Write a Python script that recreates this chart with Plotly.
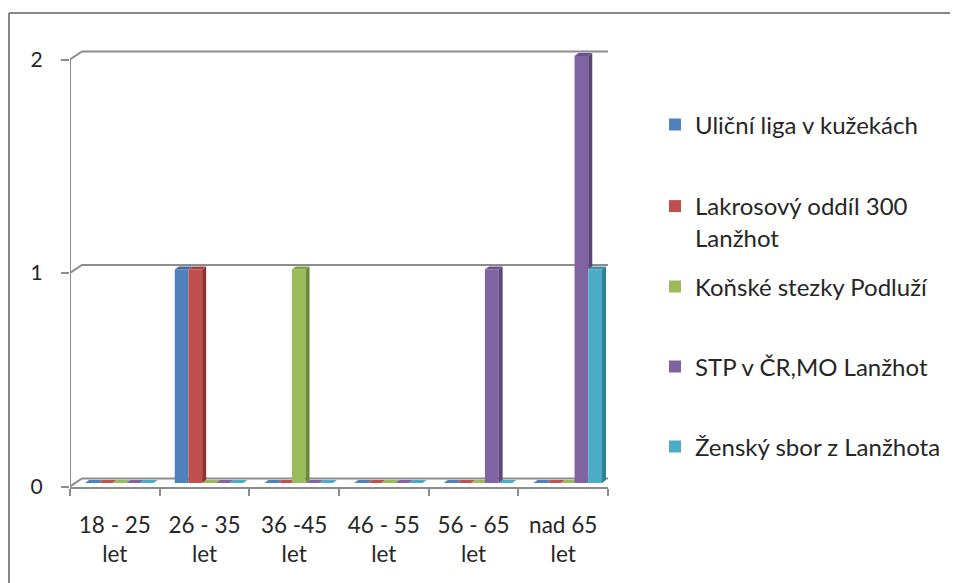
import plotly.graph_objects as go

# ---------------- data ----------------
categories = ["18 - 25<br>let", "26 - 35<br>let", "36 -45<br>let",
              "46 - 55<br>let", "56 - 65<br>let", "nad 65<br>let"]
series_names = ["Uliční liga v kužekách", "Lakrosový oddíl 300<br>Lanžhot",
                "Koňské stezky Podluží", "STP v ČR,MO Lanžhot", "Ženský sbor z Lanžhota"]
ulicni_liga = [0, 1, 0, 0, 0, 0]
lakrosovy_oddil = [0, 1, 0, 0, 0, 0]
konske_stezky = [0, 0, 1, 0, 0, 0]
stp_cr = [0, 0, 0, 0, 1, 2]
zensky_sbor = [0, 0, 0, 0, 0, 1]
y_ticks = [0, 1, 2]

series_values = [ulicni_liga, lakrosovy_oddil, konske_stezky, stp_cr, zensky_sbor]

# ---------------- style ----------------
colors = ["#4F81BD", "#C0504D", "#9BBB59", "#8064A2", "#4BACC6"]
side_colors = ["#36598a", "#8a3532", "#6d8a3a", "#5a4579", "#2f7f95"]
top_colors = ["#40689c", "#a04340", "#82a048", "#6a5288", "#3b93ab"]
GRAY = "#8c8c8c"
FONT = "Lato"
TXT = "#262626"

OFF = 8                      # page body margin of the browser
W, H = 958 - OFF, 583 - OFF
# plot area in page pixels
L_PG, R_PG, T_PG, B_PG = 70, 608, 50, 487
L_PX, R_PX, T_PX, B_PX = L_PG - OFF, R_PG - OFF, T_PG - OFF, B_PG - OFF
BAR_W = 0.153
BAR_OFF0 = -0.332
DX, DY = 0.0446, 0.014          # bar depth (data units)
WDX, WDY = 0.1338, 0.0375       # back wall offset (data units)
# legend item vertical centres (page pixels)
legend_centers = [125, 222, 287, 367, 447]
LEGEND_X = 655


def px(xp):
    return (xp - OFF - L_PX) / (R_PX - L_PX)


def py(yp):
    return (B_PX - (yp - OFF)) / (B_PX - T_PX)


x_pos = list(range(len(categories)))

fig = go.Figure()
for i, (name, vals) in enumerate(zip(series_names, series_values)):
    fig.add_trace(go.Bar(
        x=x_pos, y=vals, name=name, width=BAR_W, offset=BAR_OFF0 + i * BAR_W,
        marker=dict(color=colors[i], line=dict(width=0)),
        legend="legend" if i == 0 else "legend%d" % (i + 1), hoverinfo="skip"))

# invisible trace for the front value axis
fig.add_trace(go.Scatter(x=[0], y=[0], yaxis="y2", mode="markers",
                         marker=dict(opacity=0), showlegend=False, hoverinfo="skip"))

shapes = []
# frame
shapes.append(dict(type="line", xref="paper", yref="paper", x0=px(9), x1=px(958), y0=py(13), y1=py(13),
                   line=dict(color="#878787", width=2)))
shapes.append(dict(type="line", xref="paper", yref="paper", x0=px(9), x1=px(9), y0=py(13), y1=py(583),
                   line=dict(color="#878787", width=2)))

x_lo, x_hi = -0.5, len(categories) - 0.5
# back wall gridlines + floor
for v in y_ticks:
    if v == 0:
        path = "M%f,%f L%f,%f L%f,%f L%f,%f" % (x_lo, 0, x_lo + WDX, WDY, x_hi + WDX, WDY, x_hi, 0)
    else:
        path = "M%f,%f L%f,%f L%f,%f" % (x_lo, v, x_lo + WDX, v + WDY, x_hi + WDX + 0.02, v + WDY)
    shapes.append(dict(type="path", xref="x", yref="y2", path=path, layer="below",
                       line=dict(color=GRAY, width=2)))
# front value axis line
shapes.append(dict(type="line", xref="x", yref="y2", x0=x_lo, x1=x_lo, y0=0, y1=max(y_ticks),
                   line=dict(color=GRAY, width=2), layer="below"))

# bar faces
for i, vals in enumerate(series_values):
    for j, v in enumerate(vals):
        left = j + BAR_OFF0 + i * BAR_W
        right = left + BAR_W
        top = "M%f,%f L%f,%f L%f,%f L%f,%f Z" % (left, v, right, v, right + DX, v + DY, left + DX, v + DY)
        if v == 0:
            shapes.append(dict(type="path", xref="x", yref="y", path=top, layer="below",
                               fillcolor=colors[i], line=dict(width=0)))
            continue
        nxt = series_values[i + 1][j] if i + 1 < len(series_values) else 0
        if nxt < v:
            side = "M%f,%f L%f,%f L%f,%f L%f,%f Z" % (right, nxt, right + DX, nxt + DY,
                                                      right + DX, v + DY, right, v)
            shapes.append(dict(type="path", xref="x", yref="y", path=side,
                               fillcolor=side_colors[i], line=dict(width=0)))
        shapes.append(dict(type="path", xref="x", yref="y", path=top,
                           fillcolor=top_colors[i], line=dict(width=0)))

legend_font = dict(family=FONT, size=24, color=TXT)
legends = {}
for i, yc in enumerate(legend_centers):
    key = "legend" if i == 0 else "legend%d" % (i + 1)
    legends[key] = dict(x=px(LEGEND_X), y=py(yc), xanchor="left", yanchor="middle",
                        valign="top", bgcolor="rgba(0,0,0,0)", font=legend_font,
                        itemclick=False, itemdoubleclick=False)

fig.update_layout(
    width=W, height=H,
    margin=dict(l=L_PX, r=W - R_PX, t=T_PX, b=H - B_PX, autoexpand=False),
    paper_bgcolor="white", plot_bgcolor="rgba(0,0,0,0)",
    barmode="overlay",
    font=dict(family=FONT, size=22, color=TXT),
    shapes=shapes,
    showlegend=True,
    xaxis=dict(range=[x_lo, x_hi], tickvals=x_pos, ticktext=categories, ticks="",
               showline=True, linecolor=GRAY, linewidth=2, showgrid=False, zeroline=False,
               ticklabelstandoff=17, tickfont=dict(family=FONT, size=22.5, color=TXT),
               minor=dict(tickvals=[k - 0.5 for k in range(len(categories) + 1)], ticks="outside",
                          ticklen=7, tickcolor=GRAY, tickwidth=2, showgrid=False),
               fixedrange=True),
    yaxis=dict(range=[-0.01874, 2.0281], visible=False, fixedrange=True),
    yaxis2=dict(range=[-0.0023, 2.0445], overlaying="y", side="left", tickvals=y_ticks,
                ticks="outside", ticklen=8, tickcolor=GRAY, tickwidth=2, showgrid=False,
                zeroline=False, showline=False, ticklabelstandoff=14,
                tickfont=dict(family=FONT, size=21, color=TXT), fixedrange=True),
    **legends,
)

fig.write_html("out.html")
